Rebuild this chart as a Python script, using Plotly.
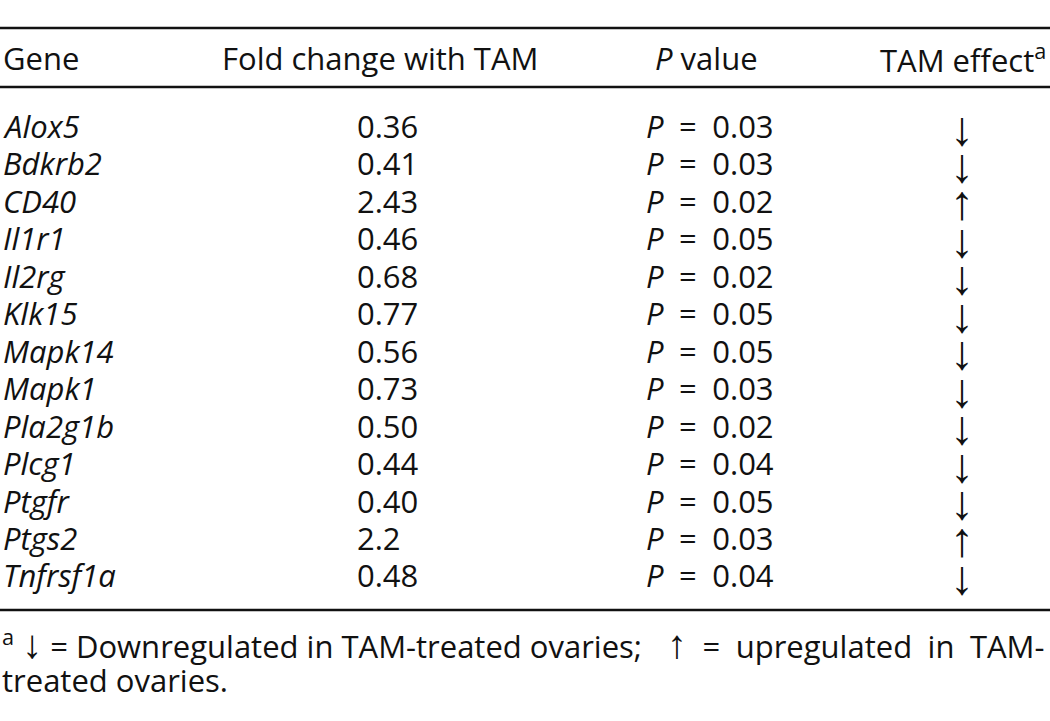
import plotly.graph_objects as go

# ---- data ----
genes = ["Alox5", "Bdkrb2", "CD40", "Il1r1", "Il2rg", "Klk15", "Mapk14",
         "Mapk1", "Pla2g1b", "Plcg1", "Ptgfr", "Ptgs2", "Tnfrsf1a"]
fold_change = ["0.36", "0.41", "2.43", "0.46", "0.68", "0.77", "0.56",
               "0.73", "0.50", "0.44", "0.40", "2.2", "0.48"]
p_values = ["0.03", "0.03", "0.02", "0.05", "0.02", "0.05", "0.05",
            "0.03", "0.02", "0.04", "0.05", "0.03", "0.04"]
tam_effect = ["↓", "↓", "↑", "↓", "↓", "↓", "↓", "↓", "↓", "↓", "↓", "↑", "↓"]
headers = ["Gene", "Fold change with TAM", "<i>P</i> value", "TAM effect<sup>a</sup>"]
footnote_parts = [
    "<sup>a</sup> ↓ = Downregulated in TAM-treated ovaries;",
    "↑ = upregulated in TAM-",
    "treated ovaries.",
]

FONT = "Open Sans"
ARROW_FONT = "Liberation Sans"
SIZE = 31
INK = "#111111"
EN = "\u2002"

W, H = 1050, 721

fig = go.Figure()
fig.add_trace(go.Scatter(x=[0, W], y=[0, H], mode="markers",
                         marker=dict(opacity=0), hoverinfo="skip", showlegend=False))

row0, dy = 126, 37.45
header_y = 58
col_gene_x = 1
col_fold_x = 355
col_p_x = 710
col_eff_x = 962


def arrowize(s, size):
    for a in ("↓", "↑"):
        s = s.replace(a, f"<span style=\"font-family:'{ARROW_FONT}';font-size:{size}px\">{a}</span>")
    return s


ann = []
def add(text, x, y, anchor, size=SIZE, family=FONT):
    ann.append(dict(x=x, y=y, xref="x", yref="y", text=text, showarrow=False,
                    xanchor=anchor, yanchor="middle",
                    font=dict(family=family, size=size, color=INK)))

add(headers[0], col_gene_x, header_y, "left")
add(headers[1], 380, header_y, "center")
add(headers[2], 706, header_y, "center")
add(headers[3], 1048, header_y, "right")

for i, g in enumerate(genes):
    y = row0 + i * dy
    add(f"<i>{g}</i>", col_gene_x, y, "left")
    add(fold_change[i], col_fold_x, y, "left")
    add(f"<i>P</i>{EN}={EN}{p_values[i]}", col_p_x, y, "center")
    add(tam_effect[i], col_eff_x, y + 2, "center", size=48, family=ARROW_FONT)

add(arrowize(footnote_parts[0], 40), 0, 644, "left")
add(arrowize(footnote_parts[1].replace(" ", EN), 40), 1046, 644, "right")
add(footnote_parts[2], 0, 680, "left")

for ly in [28, 87, 610]:
    fig.add_trace(go.Scatter(x=[0, W], y=[ly, ly], mode="lines",
                             line=dict(color=INK, width=2.5),
                             hoverinfo="skip", showlegend=False))

fig.update_layout(
    width=W, height=H, margin=dict(l=0, r=0, t=0, b=0),
    paper_bgcolor="white", plot_bgcolor="white",
    xaxis=dict(range=[0, W], visible=False, fixedrange=True),
    yaxis=dict(range=[H, 0], visible=False, fixedrange=True),
    annotations=ann,
)
fig.write_html(
    "out.html",
    config={"displayModeBar": False},
    post_script="document.body.style.margin='0';document.body.style.overflow='hidden';",
)
